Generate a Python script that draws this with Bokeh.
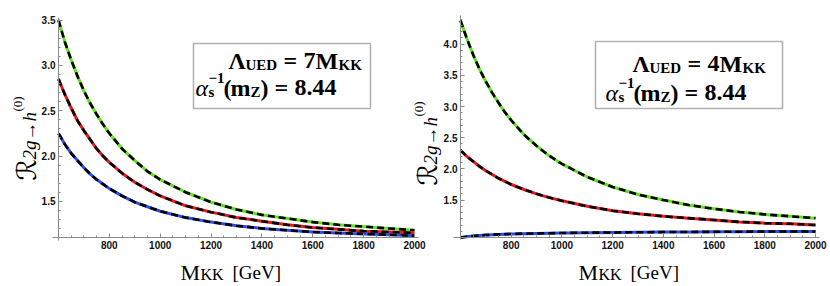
from bokeh.plotting import figure
from bokeh.models import Range1d, FixedTicker, Label, BoxAnnotation, LinearAxis
from bokeh.layouts import row
from bokeh.embed import file_html
from bokeh.resources import INLINE
import numpy as np

# ---------------- data ----------------
m_kk = [600, 625, 650, 675, 700, 725, 750, 775, 800, 850, 900, 950, 1000,
        1100, 1200, 1300, 1400, 1500, 1600, 1700, 1800, 1900, 2000]

# left panel: Lambda_UED = 7 M_KK
left_green = [3.50, 3.26, 3.06, 2.88, 2.72, 2.58, 2.46, 2.35, 2.25, 2.08, 1.95, 1.83, 1.74,
              1.60, 1.49, 1.41, 1.35, 1.31, 1.27, 1.24, 1.22, 1.20, 1.18]
left_red   = [2.85, 2.68, 2.53, 2.39, 2.28, 2.18, 2.08, 2.00, 1.93, 1.81, 1.71, 1.63, 1.56,
              1.45, 1.38, 1.32, 1.28, 1.24, 1.21, 1.19, 1.17, 1.16, 1.15]
left_blue  = [2.25, 2.13, 2.03, 1.95, 1.87, 1.80, 1.74, 1.69, 1.64, 1.56, 1.49, 1.44, 1.39,
              1.32, 1.27, 1.23, 1.20, 1.18, 1.16, 1.15, 1.14, 1.13, 1.12]

# right panel: Lambda_UED = 4 M_KK
right_green = [4.38, 4.09, 3.83, 3.60, 3.40, 3.22, 3.06, 2.91, 2.78, 2.55, 2.37, 2.21, 2.08,
               1.87, 1.71, 1.59, 1.50, 1.42, 1.36, 1.31, 1.27, 1.24, 1.21]
right_red   = [2.30, 2.20, 2.12, 2.04, 1.97, 1.91, 1.85, 1.80, 1.75, 1.67, 1.60, 1.54, 1.49,
               1.40, 1.33, 1.28, 1.24, 1.21, 1.18, 1.15, 1.13, 1.12, 1.10]
right_blue  = [0.900, 0.913, 0.925, 0.933, 0.940, 0.945, 0.950, 0.954, 0.957, 0.962, 0.966, 0.969, 0.972,
               0.977, 0.981, 0.984, 0.987, 0.989, 0.991, 0.993, 0.995, 0.996, 0.997]

x_ticks = [800, 1000, 1200, 1400, 1600, 1800, 2000]
x_tick_labels = ["800", "1000", "1200", "1400", "1600", "1800", "2000"]
y_ticks_left = [1.5, 2.0, 2.5, 3.0, 3.5]
y_tick_labels_left = ["1.5", "2.0", "2.5", "3.0", "3.5"]
y_ticks_right = [1.5, 2.0, 2.5, 3.0, 3.5, 4.0]
y_tick_labels_right = ["1.5", "2.0", "2.5", "3.0", "3.5", "4.0"]

lambda_left = "7"
lambda_right = "4"
alpha_value = "8.44"

GREEN = "#5ee41c"
RED = "#e8161b"
BLUE = "#2b4ee8"
AXIS = "#8a8a8a"
SERIF = "Liberation Serif"

H = 286  # canvas height of both figures


def span_range(d0, d1, c0, c1, size, flip=False):
    """range so that value d0 sits at canvas pixel c0 and d1 at c1"""
    if flip:  # vertical: pixels grow downwards
        s = (d1 - d0) / (c0 - c1)
        return Range1d(d0 - (size - c0) * s, d1 + c1 * s)
    s = (d1 - d0) / (c1 - c0)
    return Range1d(d0 - c0 * s, d0 + (size - c0) * s)


def make_fig(cl, w, xpx, ypx, yr, yt, ytl, yminor, xb, yb):
    p = figure(width=w, height=H,
               x_range=span_range(600, 2000, xpx[0] - cl, xpx[1] - cl, w),
               y_range=span_range(yr[0], yr[1], ypx[0], ypx[1], H, flip=True),
               min_border=0, min_border_left=0, min_border_right=0,
               min_border_top=0, min_border_bottom=0,
               x_axis_location=None, y_axis_location=None,
               output_backend="svg", toolbar_location=None)
    p.outline_line_color = None
    p.xgrid.visible = False
    p.ygrid.visible = False
    p.background_fill_color = "white"
    p.border_fill_color = "white"
    xa = LinearAxis(fixed_location=yr[0], bounds=xb,
                    ticker=FixedTicker(ticks=x_ticks, minor_ticks=list(np.arange(600, 2001, 50))))
    xa.major_label_overrides = {t: l for t, l in zip(x_ticks, x_tick_labels)}
    ya = LinearAxis(fixed_location=600, bounds=yb,
                    ticker=FixedTicker(ticks=yt, minor_ticks=yminor))
    ya.major_label_overrides = {t: l for t, l in zip(yt, ytl)}
    for ax in (xa, ya):
        ax.axis_line_color = AXIS
        ax.axis_line_width = 1
        ax.major_tick_line_color = AXIS
        ax.minor_tick_line_color = AXIS
        ax.major_tick_in = 4
        ax.major_tick_out = 0
        ax.minor_tick_in = 2
        ax.minor_tick_out = 0
        ax.major_label_text_font = "Liberation Sans"
        ax.major_label_text_font_style = "bold"
        ax.major_label_text_font_size = "10px"
        ax.major_label_text_color = "#111111"
        ax.major_label_standoff = 3
    p.add_layout(xa, "below")
    p.add_layout(ya, "left")
    return p


def curves(p, ys, colors):
    for y, c in zip(ys, colors):
        p.line(m_kk, y, line_color=c, line_width=3)
        p.line(m_kk, y, line_color="black", line_width=2.6, line_dash="7 4")


def put(p, cl, px, py, text, size, style="normal", font=SERIF, angle=0.0):
    p.add_layout(Label(x=px - cl, y=H - py, x_units="screen", y_units="screen",
                       text=text, text_font=font, text_font_size=f"{size}px",
                       text_font_style=style, angle=angle, text_color="black",
                       text_align="left", text_baseline="alphabetic"))


def box(p, cl, l, t, r, b):
    p.add_layout(BoxAnnotation(left=l - cl, right=r - cl, top=H - t, bottom=H - b,
                               left_units="screen", right_units="screen",
                               top_units="screen", bottom_units="screen",
                               fill_color="white", fill_alpha=1.0,
                               line_color="black", line_width=1.6))


def box_text(p, cl, x1, b1, x2, b2, lam):
    # line 1:  Λ_UED = n M_KK
    put(p, cl, x1, b1, "Λ", 24, "bold")
    put(p, cl, x1 + 17, b1 + 4, "UED", 15, "bold")
    put(p, cl, x1 + 55, b1, "=", 24, "bold")
    put(p, cl, x1 + 75, b1, lam, 24, "bold")
    put(p, cl, x1 + 87, b1, "M", 24, "bold")
    put(p, cl, x1 + 110, b1 + 4, "KK", 15, "bold")
    # line 2:  α_s^{-1}(m_Z) = 8.44
    put(p, cl, x2, b2, "α", 24, "italic")
    put(p, cl, x2 + 13, b2 + 4, "s", 15, "bold")
    put(p, cl, x2 + 13, b2 - 10, "−1", 15, "bold")
    put(p, cl, x2 + 28, b2, "(", 24, "bold")
    put(p, cl, x2 + 35, b2, "m", 24, "bold")
    put(p, cl, x2 + 55, b2 + 4, "Z", 15, "bold")
    put(p, cl, x2 + 65, b2, ")", 24, "bold")
    put(p, cl, x2 + 79, b2, "=", 24, "bold")
    put(p, cl, x2 + 99, b2, alpha_value, 24, "bold")


def x_label(p, cl, xm):
    put(p, cl, xm, 272, "M", 22)
    put(p, cl, xm + 20, 274, "KK", 16)
    put(p, cl, xm + 52, 272, "[GeV]", 19)


def y_label(p, cl, bx, by):
    a = np.pi / 2
    put(p, cl, bx, by, "ℛ", 27, "normal", "DejaVu Sans", a)
    put(p, cl, bx + 3, by - 21, "2g→h", 19, "italic", SERIF, a)
    put(p, cl, bx - 9, by - 69, "(0)", 13, "normal", SERIF, a)


# ---------------- left panel (canvas x 0..442) ----------------
LCL, LW = 0, 442
p1 = make_fig(LCL, LW, (58, 414), (237, 17), (1.1, 3.53),
              y_ticks_left, y_tick_labels_left, list(np.round(np.arange(1.1, 3.51, 0.1), 2)),
              (576, 2016), (1.07, 3.53))
curves(p1, [left_green, left_red, left_blue], [GREEN, RED, BLUE])
box(p1, LCL, 193, 43, 370, 108)
box_text(p1, LCL, 228, 60, 195, 87, lambda_left)
x_label(p1, LCL, 180)
y_label(p1, LCL, 26, 180)
# y label of the right panel sits in the gap between the panels
y_label(p1, LCL, 427, 185)

# ---------------- right panel (canvas x 442..830) ----------------
RCL, RW = 442, 388
p2 = make_fig(RCL, RW, (460, 815), (237, 15), (0.9, 4.46),
              y_ticks_right, y_tick_labels_right, list(np.round(np.arange(1.0, 4.41, 0.1), 2)),
              (572, 2016), (0.87, 4.46))
curves(p2, [right_green, right_red, right_blue], [GREEN, RED, BLUE])
box(p2, RCL, 595, 41, 782, 108)
box_text(p2, RCL, 632, 63, 605, 92, lambda_right)
x_label(p2, RCL, 578)

layout = row(p1, p2)
open("out.html", "w").write(file_html(layout, INLINE))
